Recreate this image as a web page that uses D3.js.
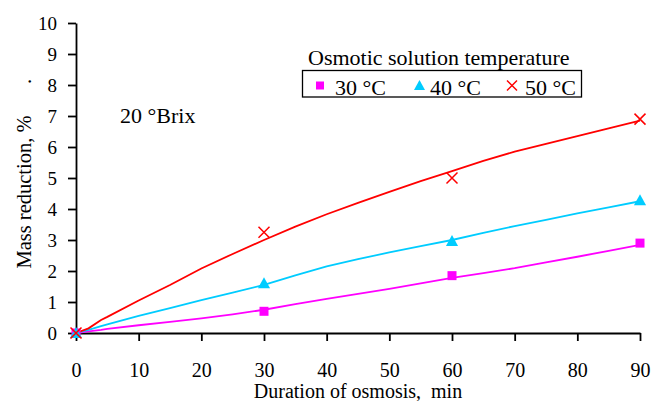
<!DOCTYPE html>
<html lang="en">
<head>
  <meta charset="utf-8">
  <title>Mass reduction</title>
  <script src="https://d3js.org/d3.v7.min.js"></script>
  <style>
    body { margin: 0; background: #fff; }
    .axis path, .axis line { stroke: #000; stroke-width: 1.8; }
  </style>
</head>
<body>
<script>
  // measured points
  const times = [0, 30, 60, 90];
  const pts30 = [0, 0.7, 1.85, 2.9];
  const pts40 = [0, 1.6, 2.97, 4.28];
  const pts50 = [0, 3.25, 5.0, 6.9];

  // fitted model curves
  const fitTimes = [0, 2, 4, 5, 10, 15, 20, 25, 30, 35, 40, 45, 50, 55, 60, 65, 70, 75, 80, 85, 90];
  const fit30 = [0, 0.05, 0.1, 0.13, 0.25, 0.36, 0.47, 0.6, 0.75, 0.93, 1.1, 1.26, 1.42, 1.6, 1.78, 1.93, 2.09, 2.28, 2.46, 2.65, 2.84];
  const fit40 = [0, 0.1, 0.22, 0.28, 0.55, 0.8, 1.06, 1.3, 1.55, 1.86, 2.15, 2.38, 2.6, 2.8, 3.0, 3.23, 3.45, 3.65, 3.86, 4.05, 4.25];
  const fit50 = [0, 0.15, 0.42, 0.52, 1.05, 1.55, 2.08, 2.55, 3.0, 3.43, 3.83, 4.2, 4.55, 4.9, 5.22, 5.55, 5.85, 6.1, 6.35, 6.6, 6.85];

  const xTicks = [0, 10, 20, 30, 40, 50, 60, 70, 80, 90];
  const yTicks = [0, 1, 2, 3, 4, 5, 6, 7, 8, 9, 10];
  const legendLabels = ["30 °C", "40 °C", "50 °C"];

  const series = [
    { name: legendLabels[0], pts: pts30, fit: fit30, color: "#ff00ff", shape: "square" },
    { name: legendLabels[1], pts: pts40, fit: fit40, color: "#00ccff", shape: "triangle" },
    { name: legendLabels[2], pts: pts50, fit: fit50, color: "#ff0000", shape: "cross" }
  ];

  const svg = d3.select("body").append("svg")
      .attr("width", 654)
      .attr("height", 401);

  const x = d3.scaleLinear().domain([0, 90]).range([76, 640]);
  const y = d3.scaleLinear().domain([0, 10]).range([333, 23]);

  // axes
  svg.append("g")
      .attr("class", "axis")
      .attr("transform", "translate(0,333)")
      .call(d3.axisBottom(x).tickValues(xTicks).tickSize(8).tickSizeOuter(0).tickPadding(22))
      .attr("font-family", "Liberation Serif")
      .attr("font-size", 20);

  svg.append("g")
      .attr("class", "axis")
      .attr("transform", "translate(76,0)")
      .call(d3.axisLeft(y).tickValues(yTicks).tickSize(8).tickSizeOuter(0).tickPadding(11))
      .attr("font-family", "Liberation Serif")
      .attr("font-size", 19);

  // fitted lines
  const line = d3.line()
      .x((d, i) => x(fitTimes[i]))
      .y(d => y(d));

  series.forEach(s => {
    svg.append("path")
        .attr("d", line(s.fit))
        .attr("fill", "none")
        .attr("stroke", s.color)
        .attr("stroke-width", 1.8);
  });

  function drawMarker(g, shape, color, cx, cy, size) {
    if (shape === "square") {
      g.append("rect")
          .attr("x", cx - size / 2).attr("y", cy - size / 2)
          .attr("width", size).attr("height", size)
          .attr("fill", color);
    } else if (shape === "triangle") {
      const h = size;
      g.append("path")
          .attr("d", `M${cx},${cy - h * 0.55} L${cx + h * 0.55},${cy + h * 0.45} L${cx - h * 0.55},${cy + h * 0.45} Z`)
          .attr("fill", color);
    } else {
      const r = size / 2;
      g.append("path")
          .attr("d", `M${cx - r},${cy - r} L${cx + r},${cy + r} M${cx - r},${cy + r} L${cx + r},${cy - r}`)
          .attr("stroke", color)
          .attr("stroke-width", 1.5)
          .attr("fill", "none");
    }
  }

  // measured markers
  series.forEach(s => {
    const g = svg.append("g");
    s.pts.forEach((v, i) => drawMarker(g, s.shape, s.color, x(times[i]), y(v), s.shape === "square" ? 9 : 11));
  });

  // labels
  svg.append("text")
      .attr("x", 358).attr("y", 398)
      .attr("text-anchor", "middle")
      .style("font-size", "20px")
      .style("white-space", "pre")
      .text("Duration of osmosis,  min");

  svg.append("text")
      .attr("transform", "translate(31,192) rotate(-90)")
      .attr("text-anchor", "middle")
      .style("font-size", "20.5px")
      .text("Mass reduction, %");

  svg.append("text")
      .attr("transform", "translate(31,84) rotate(-90)")
      .style("font-size", "20.5px")
      .text(".");

  svg.append("text")
      .attr("x", 120).attr("y", 123)
      .style("font-size", "22px")
      .text("20 °Brix");

  // legend
  svg.append("text")
      .attr("x", 308).attr("y", 65)
      .style("font-size", "22px")
      .text("Osmotic solution temperature");

  svg.append("rect")
      .attr("x", 302.5).attr("y", 70.5)
      .attr("width", 279).attr("height", 26.5)
      .attr("fill", "none")
      .attr("stroke", "#000")
      .attr("stroke-width", 1.3);

  const legendX = [320, 419.5, 512];
  const legendTextX = [335, 430, 525];
  series.forEach((s, i) => {
    const g = svg.append("g");
    drawMarker(g, s.shape, s.color, legendX[i], 85.5, s.shape === "square" ? 8 : 10);
    svg.append("text")
        .attr("x", legendTextX[i]).attr("y", 95)
        .style("font-size", "22px")
        .text(s.name);
  });

  svg.selectAll("text")
      .style("font-family", "'Liberation Serif'")
      .style("fill", "#000");
</script>
</body>
</html>
